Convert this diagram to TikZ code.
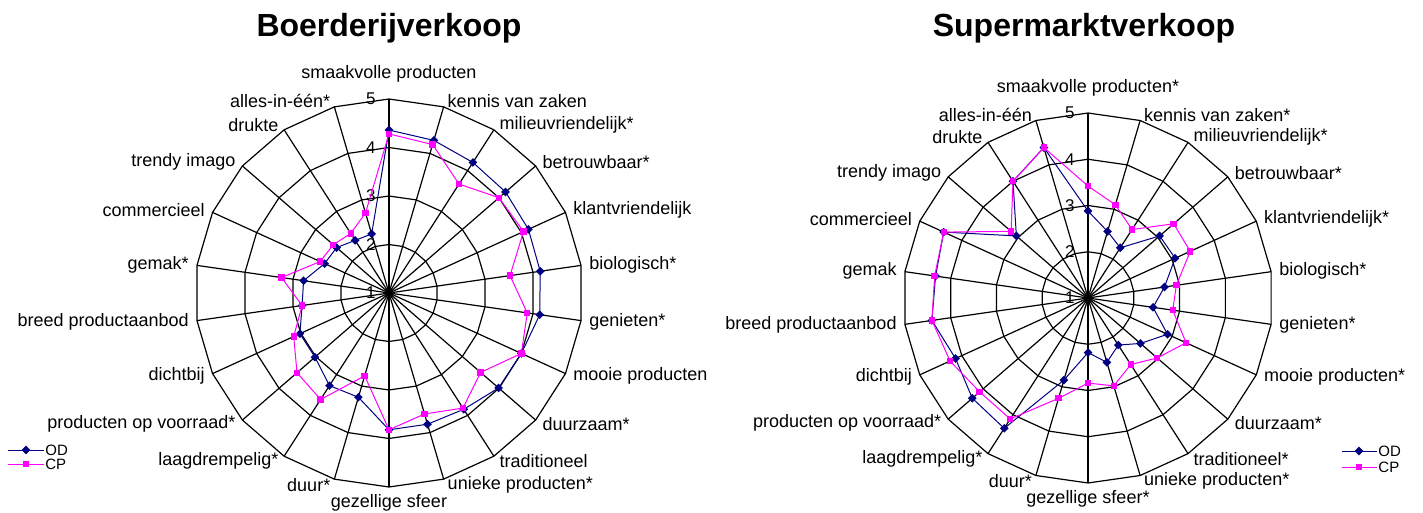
\documentclass[tikz,border=0pt]{standalone}
\usepackage{fontspec}
\setmainfont{Liberation Sans}
\usetikzlibrary{shapes.geometric}

\definecolor{odblue}{RGB}{0,0,128}
\definecolor{cpmag}{RGB}{255,0,255}

\tikzset{
  webline/.style={black, line width=0.6pt},
  lbl/.style={font=\fontsize{9}{10}\selectfont, inner sep=1pt},
  numlbl/.style={font=\fontsize{8.5}{9}\selectfont, inner sep=0pt, anchor=east},
  ttl/.style={font=\fontsize{16}{18}\selectfont\bfseries, anchor=base},
  odline/.style={odblue, line width=0.5pt},
  cpline/.style={cpmag, line width=0.5pt},
  odmark/.style={diamond, fill=odblue, inner sep=0pt, minimum size=4.5pt},
  cpmark/.style={rectangle, fill=cpmag, inner sep=0pt, minimum size=3.2pt},
  legtxt/.style={font=\fontsize{7.5}{8}\selectfont, inner sep=0.5pt, anchor=west}
}

% web of 22 spokes, #1 prefix, #2 outer radius, #3 one scale step
\newcommand{\spiderweb}[3]{
  \coordinate (#1-c) at (0,0);
  \foreach \i in {0,...,21}
    \coordinate (#1-v\i) at ({90-\i*360/22}:#2);
  \foreach \k in {1,...,4}
    \draw[webline] (90:{\k*#3}) \foreach \i in {1,...,21}{ -- ({90-\i*360/22}:{\k*#3})} -- cycle;
  \foreach \i in {0,...,21}
    \draw[webline] (#1-c) -- (#1-v\i);
  \foreach \k in {1,...,5}
    \node[numlbl] (#1-n\k) at (-13,{(\k-1)*#3}) {\k};
}

% axis texts, #1 prefix, #2 outer radius, #3 list
\newcommand{\spoketexts}[3]{
  \foreach \i/\txt in {#3} {
    \pgfmathsetmacro\ang{90-\i*360/22}
    \ifnum\i=0 \node[lbl,anchor=south] (#1-l\i) at ({\ang}:{#2+14}) {\txt};
    \else\ifnum\i=11 \node[lbl,anchor=north] (#1-l\i) at ({\ang}:{#2+5}) {\txt};
    \else\ifnum\i<11 \node[lbl,anchor=west] (#1-l\i) at ({\ang}:{#2+6}) {\txt};
    \else \node[lbl,anchor=east] (#1-l\i) at ({\ang}:{#2+6}) {\txt};
    \fi\fi\fi
  }
}

% one series, #1 name, #2 scale step, #3 od or cp, #4 scores
\newcommand{\scores}[4]{
  \foreach \v [count=\i from 0] in {#4}
    \coordinate (#1\i) at ({90-\i*360/22}:{(\v-1)*#2});
  \draw[#3line] (#10) \foreach \i in {1,...,21}{ -- (#1\i)} -- cycle;
  \foreach \i in {0,...,21}
    \node[#3mark] (#1m\i) at (#1\i) {};
}

\begin{document}
\begin{tikzpicture}[x=0.5pt,y=0.5pt]
  \useasboundingbox (0,0) rectangle (1423,-513);

  \node[ttl] (L-title) at (389,-36.7) {Boerderijverkoop};
  \node[ttl] (R-title) at (1084,-36.7) {Supermarktverkoop};

  % boerderij
  \begin{scope}[shift={(389,-293)}]
    \spiderweb{L}{194}{48.5}
    \spoketexts{L}{194}{0/smaakvolle producten, 1/kennis van zaken, 2/milieuvriendelijk*,
      3/betrouwbaar*, 4/klantvriendelijk, 5/biologisch*, 6/genieten*, 7/mooie producten,
      8/duurzaam*, 9/traditioneel, 10/unieke producten*, 11/gezellige sfeer, 12/duur*,
      13/laagdrempelig*, 14/producten op voorraad*, 15/dichtbij, 16/breed productaanbod,
      17/gemak*, 18/commercieel, 19/trendy imago, 20/drukte, 21/alles-in-één*}
    \scores{L-od}{48.5}{od}{4.36,4.28,4.2,4.18,4.16,4.15,4.14,4.0,3.99,3.85,3.82,3.82,
      3.24,3.27,3.02,3.02,2.81,2.78,2.46,2.43,2.29,2.27}
    \scores{L-cp}{48.5}{cp}{4.28,4.19,3.67,4.0,4.05,3.52,3.88,4.0,3.5,3.82,3.6,3.82,
      2.78,3.61,3.51,3.16,2.81,3.24,2.56,2.52,2.46,2.72}
  \end{scope}

  % supermarkt
  \begin{scope}[shift={(1088,-298)}]
    \spiderweb{R}{185}{46.25}
    \spoketexts{R}{185}{0/smaakvolle producten*, 1/kennis van zaken*, 2/milieuvriendelijk*,
      3/betrouwbaar*, 4/klantvriendelijk*, 5/biologisch*, 6/genieten*, 7/mooie producten*,
      8/duurzaam*, 9/traditioneel*, 10/unieke producten*, 11/gezellige sfeer*, 12/duur*,
      13/laagdrempelig*, 14/producten op voorraad*, 15/dichtbij, 16/breed productaanbod,
      17/gemak, 18/commercieel, 19/trendy imago, 20/drukte, 21/alles-in-één}
    \scores{R-od}{46.25}{od}{2.88,2.5,2.29,3.05,3.07,2.67,2.42,2.89,2.5,2.21,2.45,2.18,
      2.85,4.35,4.31,4.15,4.41,4.33,4.43,3.05,4.0,4.39}
    \scores{R-cp}{46.25}{cp}{3.42,3.1,2.76,3.45,3.43,2.93,2.85,3.33,2.98,2.71,2.98,2.84,
      3.26,4.11,4.1,4.28,4.41,4.35,4.43,3.2,4.0,4.39}
  \end{scope}

  % legends
  \coordinate (L-lgoa) at (8,-450);
  \coordinate (L-lgob) at (44,-450);
  \draw[odline] (L-lgoa) -- (L-lgob);
  \node[odmark] (L-lgom) at (26,-450) {};
  \node[legtxt] (L-lgot) at (L-lgob) {OD};
  \coordinate (L-lgca) at (8,-464);
  \coordinate (L-lgcb) at (44,-464);
  \draw[cpline] (L-lgca) -- (L-lgcb);
  \node[cpmark] (L-lgcm) at (26,-464) {};
  \node[legtxt] (L-lgct) at (L-lgcb) {CP};

  \coordinate (R-lgoa) at (1342,-451);
  \coordinate (R-lgob) at (1377,-451);
  \draw[odline] (R-lgoa) -- (R-lgob);
  \node[odmark] (R-lgom) at (1359,-451) {};
  \node[legtxt] (R-lgot) at (R-lgob) {OD};
  \coordinate (R-lgca) at (1342,-467);
  \coordinate (R-lgcb) at (1377,-467);
  \draw[cpline] (R-lgca) -- (R-lgcb);
  \node[cpmark] (R-lgcm) at (1359,-467) {};
  \node[legtxt] (R-lgct) at (R-lgcb) {CP};
\end{tikzpicture}
\end{document}
